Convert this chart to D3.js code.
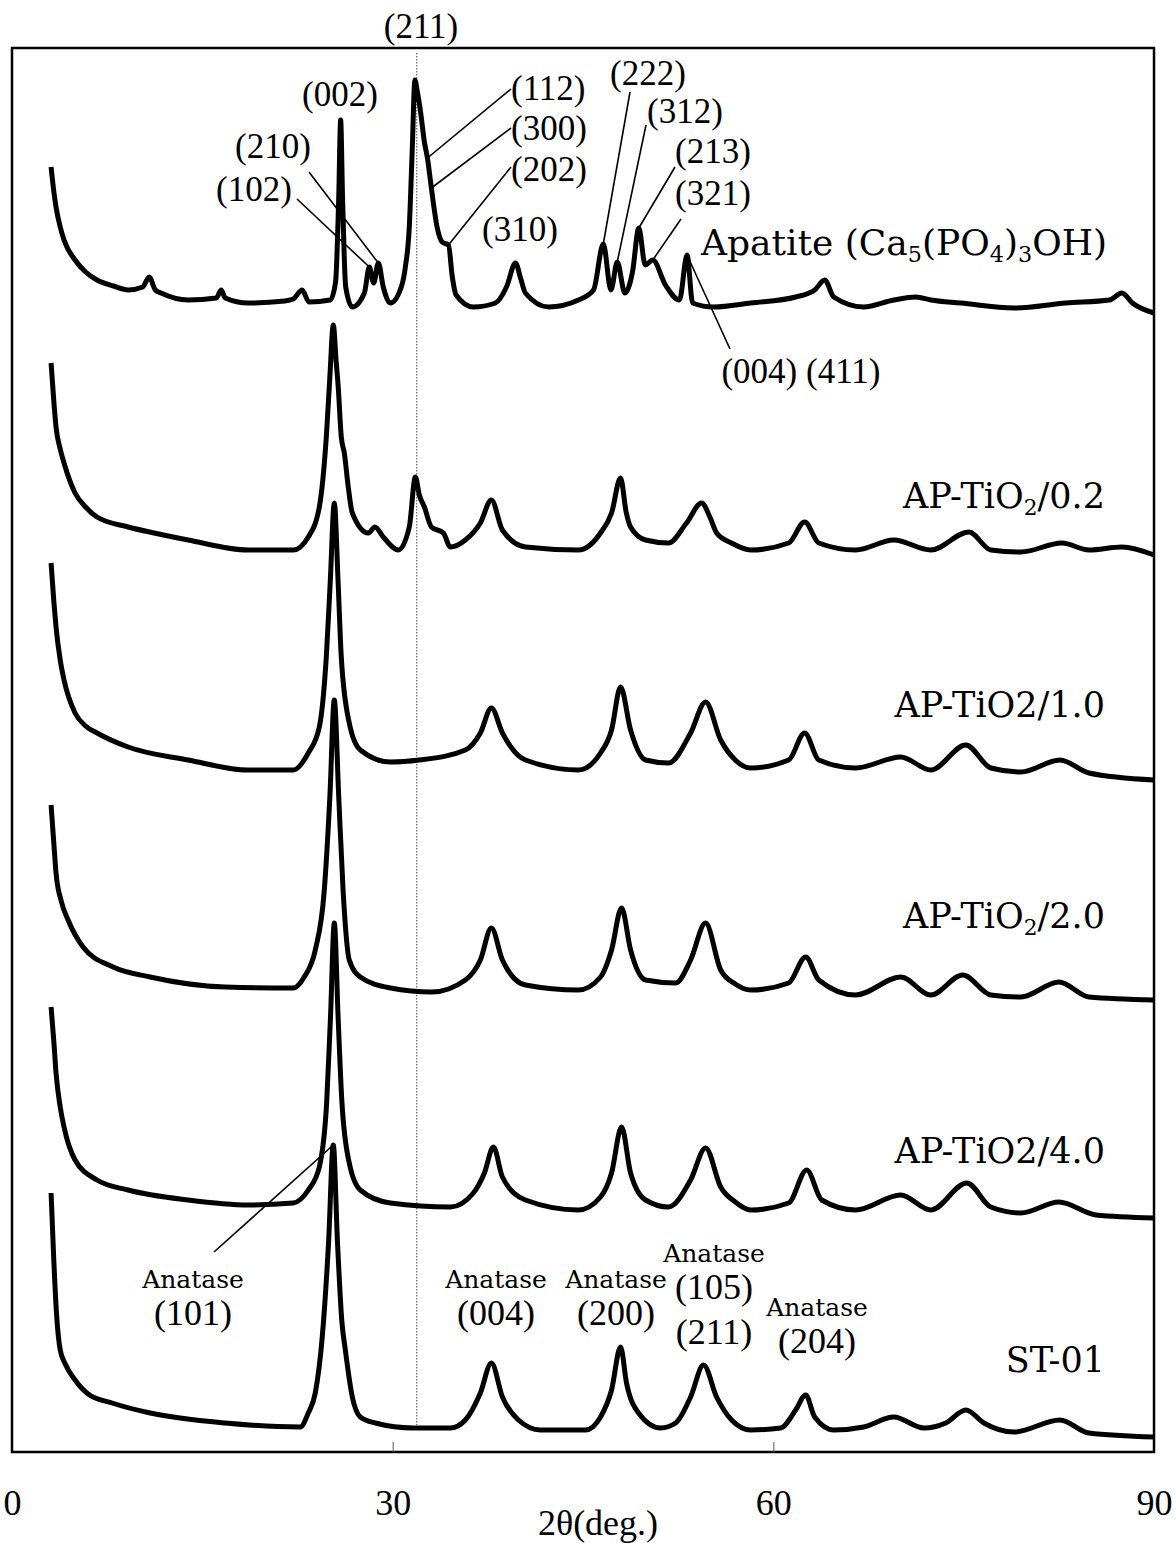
<!DOCTYPE html>
<html>
<head>
<meta charset="utf-8">
<script src="https://cdn.jsdelivr.net/npm/d3@7"></script>
<style>
  body { margin: 0; background: #fff; }
  svg { display: block; }
</style>
</head>
<body>
<svg id="chart" width="1176" height="1543"></svg>
<script>
// XRD patterns, 2θ (deg.) vs. intensity (arbitrary units, stacked)

const st01 = [[3.08,259],[3.3,190],[3.5,140],[3.8,102],[4.2,88],[4.97,72],[6.0,58],[7.89,49],[10.89,39],[16.8,29],[22.72,25],[23.35,39],[23.9,59],[24.45,115],[24.95,210],[25.32,307],[25.65,210],[26.0,130],[26.27,102],[26.82,55],[27.45,35],[28.63,29],[31.63,24],[34.55,24],[35.73,32],[36.91,59],[37.78,89],[38.65,55],[39.91,32],[41.65,22],[45.2,22],[46.38,35],[47.25,62],[47.96,105],[48.43,69],[49.38,39],[51.11,24],[52.3,29],[53.48,55],[54.5,87],[55.53,55],[56.71,32],[58.21,22],[60.58,24],[61.76,42],[62.55,57],[63.26,35],[64.76,22],[67.12,25],[69.49,35],[71.86,24],[73.59,29],[75.17,42],[76.59,29],[78.96,20],[82.59,32],[84.87,19],[90,15]];

const apTiO2_40 = [[3.08,225],[3.3,190],[3.47,159],[3.8,125],[4.1,105],[4.97,72],[6.7,52],[9.15,42],[13.88,32],[18.62,27],[22.16,29],[23.35,42],[24.22,65],[24.8,130],[25.1,215],[25.4,309],[25.7,215],[26.0,130],[26.58,69],[27.45,42],[29.82,29],[34.55,25],[36.36,39],[37.23,59],[37.94,85],[38.65,55],[40.46,32],[44.64,22],[46.38,35],[47.25,59],[48.04,105],[48.75,59],[49.93,32],[51.74,25],[53.48,52],[54.66,84],[55.85,45],[57.0,30],[58.21,22],[61.21,29],[62.63,62],[63.81,32],[66.49,22],[70.04,37],[72.41,22],[75.25,49],[77.14,25],[79.51,19],[82.51,30],[85.42,17],[90,14]];

const apTiO2_20 = [[3.08,207],[3.3,168],[3.47,139],[3.9,110],[4.42,92],[5.6,65],[7.97,45],[10.89,35],[16.8,25],[22.16,24],[23.03,35],[23.9,62],[24.6,120],[25.05,215],[25.4,312],[25.75,215],[26.1,120],[26.58,52],[27.45,35],[29.82,24],[33.1,20],[35.73,32],[36.91,52],[37.78,84],[38.65,52],[40.46,27],[44.64,22],[46.38,35],[47.25,62],[48.04,104],[48.75,62],[49.93,32],[52.3,29],[53.48,52],[54.66,89],[55.85,42],[57.0,28],[58.21,22],[61.21,29],[62.55,55],[63.58,32],[66.49,17],[70.04,35],[72.41,17],[74.93,37],[77.14,17],[79.51,15],[82.51,30],[84.87,15],[90,12]];

const apTiO2_10 = [[3.08,229],[3.3,190],[3.47,165],[3.8,132],[4.1,112],[4.97,79],[5.8,66],[6.7,59],[9.15,45],[13.88,32],[18.62,22],[22.16,22],[23.35,39],[24.22,65],[24.77,135],[25.08,210],[25.4,289],[25.7,210],[25.95,135],[26.58,69],[27.45,42],[29.82,30],[32.1,32],[35.73,42],[36.91,59],[37.78,84],[38.65,59],[40.46,32],[44.64,22],[46.38,39],[47.25,62],[47.96,105],[48.75,62],[49.93,32],[51.74,29],[53.48,59],[54.66,90],[55.85,52],[57.0,32],[58.21,24],[61.21,32],[62.47,59],[63.58,32],[66.49,24],[70.04,35],[72.41,22],[75.17,47],[77.14,24],[79.51,20],[82.59,32],[84.87,19],[90,12]];

const apTiO2_02 = [[3.08,204],[3.3,165],[3.47,140],[3.8,118],[4.1,104],[4.97,74],[5.8,60],[6.7,50],[9.15,40],[11.2,34],[13.88,27],[18.62,17],[22.16,17],[23.35,30],[24.22,60],[24.77,130],[25.05,190],[25.32,242],[25.55,205],[25.71,180],[25.95,130],[26.19,114],[26.5,80],[26.82,54],[28.08,34],[28.6,40],[29.26,30],[30.45,17],[31.31,40],[31.79,90],[32.1,72],[32.5,60],[33.05,40],[34.0,34],[34.55,20],[35.73,27],[36.91,44],[37.78,67],[38.65,37],[40.46,20],[44.64,17],[46.38,34],[47.25,54],[47.96,89],[48.4,55],[48.75,40],[49.93,27],[51.74,24],[53.16,44],[54.35,64],[55.0,50],[55.53,34],[56.7,24],[58.21,17],[61.21,24],[62.47,45],[63.58,24],[66.49,17],[69.49,27],[72.41,17],[75.41,35],[77.14,17],[79.51,15],[82.74,24],[84.87,17],[87.47,20],[90,12]];

const apatite = [[3.08,160],[3.3,135],[3.47,120],[3.8,100],[4.1,87],[4.97,67],[5.8,55],[6.7,47],[8.0,41],[9.15,37],[10.3,40],[10.81,50],[11.3,37],[11.75,34],[13.88,27],[16.1,29],[16.49,37],[16.8,29],[18.62,24],[21.5,26],[22.16,28],[22.87,37],[23.4,25],[25.08,27],[25.5,45],[25.75,130],[25.9,207],[26.05,130],[26.3,40],[26.82,20],[27.77,34],[28.16,60],[28.5,44],[28.87,64],[29.26,40],[29.82,24],[30.68,40],[31.0,60],[31.31,100],[31.55,180],[31.75,247],[31.95,235],[32.2,215],[32.5,185],[32.74,169],[33.05,139],[33.5,100],[33.9,85],[34.4,82],[34.7,50],[35.0,32],[36.36,20],[38.1,24],[38.97,40],[39.68,64],[40.1,48],[40.46,34],[42.28,20],[44.64,27],[45.83,37],[46.6,83],[47.2,37],[47.7,65],[48.3,34],[48.9,55],[49.4,99],[49.9,62],[50.5,67],[51.5,42],[52.6,27],[53.2,72],[53.64,24],[55.29,20],[58.21,24],[61.76,30],[63.26,37],[64.05,47],[64.76,30],[67.12,20],[69.5,27],[71.23,30],[72.41,27],[74.78,24],[78.96,19],[83.06,24],[86.5,27],[87.47,34],[88.3,24],[90,14]];

// stacking order, bottom to top, and vertical offset of each pattern
const patterns = [st01, apTiO2_40, apTiO2_20, apTiO2_10, apTiO2_02, apatite];
const offsets  = [0, 220, 440, 660, 885, 1125];

const xTicks = [0, 30, 60, 90];
const refTheta = 31.9;   // apatite (211) reference line

// sample names: plain text pieces with subscripted parts marked
const sampleNames = [
  [["ST-01"]],
  [["AP-TiO2/4.0"]],
  [["AP-TiO"], ["2", "sub"], ["/2.0"]],
  [["AP-TiO2/1.0"]],
  [["AP-TiO"], ["2", "sub"], ["/0.2"]],
  [["Apatite (Ca"], ["5", "sub"], ["(PO"], ["4", "sub"], [")"], ["3", "sub"], ["OH)"]]
];

// ---------------------------------------------------------------------------
const svg = d3.select("#chart");
const frame = { left: 12, right: 1154, top: 48, bottom: 1452 };

const x = d3.scaleLinear().domain([0, 90]).range([frame.left, frame.right]);
const y = d3.scaleLinear().domain([0, 1404]).range([frame.bottom, frame.top]);

const serifTimes = "'Liberation Serif', 'Times New Roman', serif";
const serifWide = "'DejaVu Serif', serif";

// value of a pattern at a given angle (linear between read points)
const bis = d3.bisector(d => d[0]).left;
function valueAt(i, theta) {
  const pts = patterns[i];
  const j = Math.max(1, Math.min(pts.length - 1, bis(pts, theta)));
  const a = pts[j - 1], b = pts[j];
  const t = (theta - a[0]) / (b[0] - a[0]);
  return a[1] + t * (b[1] - a[1]) + offsets[i];
}

// reference line
svg.append("line")
  .attr("x1", x(refTheta)).attr("x2", x(refTheta))
  .attr("y1", frame.top + 5).attr("y2", y(offsets[0] + 27))
  .attr("stroke", "#444").attr("stroke-width", 1)
  .attr("stroke-dasharray", "1.5,1.5");

// patterns
const line = d3.line()
  .x(d => x(d[0]))
  .y(d => y(d[1]))
  .curve(d3.curveMonotoneX);

svg.append("g")
  .selectAll("path")
  .data(patterns)
  .join("path")
  .attr("d", (pts, i) => line(pts.map(p => [p[0], p[1] + offsets[i]])))
  .attr("fill", "none")
  .attr("stroke", "#000")
  .attr("stroke-width", 5)
  .attr("stroke-linejoin", "round");

// frame
svg.append("rect")
  .attr("x", frame.left).attr("y", frame.top)
  .attr("width", frame.right - frame.left).attr("height", frame.bottom - frame.top)
  .attr("fill", "none").attr("stroke", "#000").attr("stroke-width", 2.5);

// x axis
const axis = svg.append("g")
  .attr("transform", `translate(0,${frame.bottom})`)
  .call(d3.axisBottom(x).tickValues(xTicks).tickFormat(d3.format("d"))
    .tickSizeInner(-10).tickSizeOuter(0).tickPadding(37));
axis.select(".domain").remove();
axis.selectAll(".tick line").attr("stroke", "#555").attr("stroke-width", 1)
  .filter(d => d === 0 || d === 90).remove();
axis.selectAll(".tick text")
  .attr("font-family", serifTimes).attr("font-size", 36).attr("fill", "#000");

svg.append("text")
  .attr("x", 598).attr("y", 1535)
  .attr("text-anchor", "middle")
  .attr("font-family", serifTimes).attr("font-size", 36)
  .text("2θ(deg.)");

// sample names
const nameLayout = [
  { x: 1105, y: 1372, anchor: "end", size: 35 },
  { x: 1105, y: 1163, anchor: "end", size: 35 },
  { x: 1105, y: 928,  anchor: "end", size: 35 },
  { x: 1105, y: 717,  anchor: "end", size: 35 },
  { x: 1105, y: 508,  anchor: "end", size: 35 },
  { x: 701,  y: 255,  anchor: "start", size: 36 }
];
sampleNames.forEach((parts, i) => {
  const L = nameLayout[i];
  const t = svg.append("text")
    .attr("x", L.x).attr("y", L.y)
    .attr("text-anchor", L.anchor)
    .attr("font-family", serifWide).attr("font-size", L.size);
  let shifted = false;
  parts.forEach(([s, kind]) => {
    const sp = t.append("tspan").text(s);
    if (kind === "sub") {
      sp.attr("font-size", L.size * 0.62).attr("dy", shifted ? 0 : L.size * 0.2);
      shifted = true;
    } else if (shifted) {
      sp.attr("dy", -L.size * 0.2);
      shifted = false;
    }
  });
});

// apatite reflections: label position and the angle of the marked peak
const hkl = [
  { text: "(211)", x: 421, y: 38,  anchor: "middle" },
  { text: "(002)", x: 340, y: 106, anchor: "middle" },
  { text: "(210)", x: 273, y: 158, anchor: "middle", from: [309, 172], theta: 28.87 },
  { text: "(102)", x: 254, y: 201, anchor: "middle", from: [297, 199], theta: 28.16 },
  { text: "(112)", x: 511, y: 100, anchor: "start",  from: [511, 89],  theta: 32.74 },
  { text: "(300)", x: 511, y: 140, anchor: "start",  from: [511, 128], theta: 33.05 },
  { text: "(202)", x: 511, y: 181, anchor: "start",  from: [511, 167], theta: 34.4 },
  { text: "(310)", x: 520, y: 241, anchor: "middle" },
  { text: "(222)", x: 648, y: 85,  anchor: "middle", from: [630, 92],  theta: 46.6 },
  { text: "(312)", x: 685, y: 123, anchor: "middle", from: [646, 125], theta: 47.7 },
  { text: "(213)", x: 675, y: 163, anchor: "start",  from: [675, 167], theta: 49.4 },
  { text: "(321)", x: 675, y: 205, anchor: "start",  from: [681, 219], theta: 50.5 },
  { text: "(004) (411)", x: 801, y: 383, anchor: "middle", from: [730, 349], theta: 53.2 }
];
const apatiteIdx = patterns.indexOf(apatite);

svg.append("g").selectAll("text").data(hkl).join("text")
  .attr("x", d => d.x).attr("y", d => d.y)
  .attr("text-anchor", d => d.anchor)
  .attr("font-family", serifTimes).attr("font-size", 35)
  .text(d => d.text);

svg.append("g").selectAll("line").data(hkl.filter(d => d.from)).join("line")
  .attr("x1", d => d.from[0]).attr("y1", d => d.from[1])
  .attr("x2", d => x(d.theta)).attr("y2", d => y(valueAt(apatiteIdx, d.theta)))
  .attr("stroke", "#000").attr("stroke-width", 1.6);

// anatase reflections
const anatase = [
  { hkl: ["(101)"], x: 193, y: 1288 },
  { hkl: ["(004)"], x: 496, y: 1288 },
  { hkl: ["(200)"], x: 616, y: 1288 },
  { hkl: ["(105)", "(211)"], x: 714, y: 1262 },
  { hkl: ["(204)"], x: 817, y: 1316 }
];
anatase.forEach(a => {
  svg.append("text")
    .attr("x", a.x).attr("y", a.y).attr("text-anchor", "middle")
    .attr("font-family", serifWide).attr("font-size", 25)
    .text("Anatase");
  a.hkl.forEach((h, k) => {
    svg.append("text")
      .attr("x", a.x).attr("y", a.y + 37 + k * 45).attr("text-anchor", "middle")
      .attr("font-family", serifTimes).attr("font-size", 36)
      .text(h);
  });
});
// leader to the ST-01 (101) peak
svg.append("line")
  .attr("x1", 214).attr("y1", 1252)
  .attr("x2", x(25.32)).attr("y2", y(valueAt(0, 25.32)))
  .attr("stroke", "#000").attr("stroke-width", 1.6);
</script>
</body>
</html>
